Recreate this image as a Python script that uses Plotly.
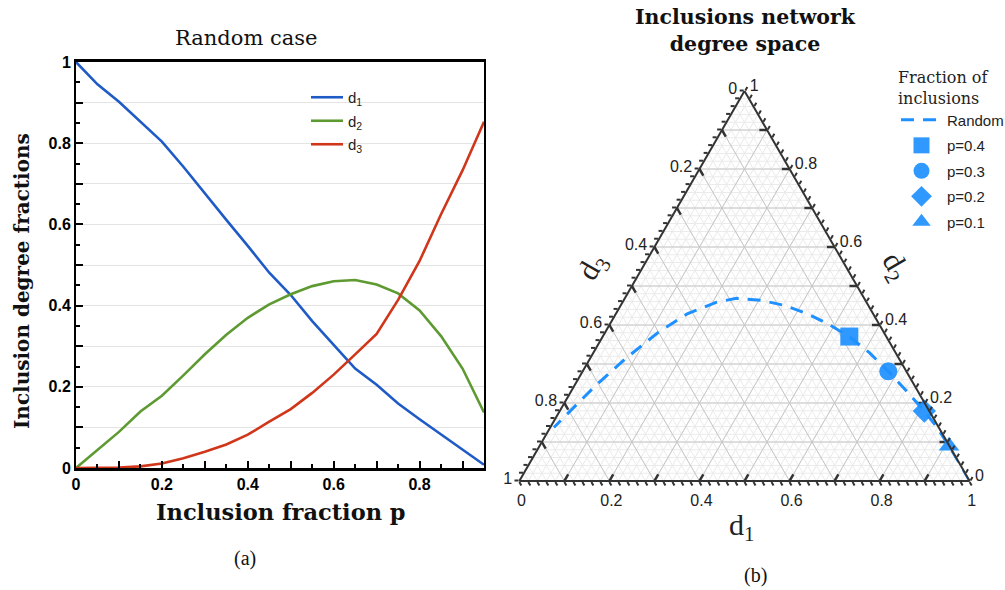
import plotly.graph_objects as go

# ---------------- data ----------------
p = [0.00, 0.05, 0.10, 0.15, 0.20, 0.25, 0.30, 0.35, 0.40, 0.45,
     0.50, 0.55, 0.60, 0.65, 0.70, 0.75, 0.80, 0.85, 0.90, 0.95]
d1 = [1.000, 0.945, 0.902, 0.853, 0.804, 0.742, 0.676, 0.611, 0.547, 0.481,
      0.426, 0.362, 0.303, 0.245, 0.205, 0.159, 0.120, 0.082, 0.046, 0.008]
d2 = [0.000, 0.044, 0.089, 0.139, 0.178, 0.228, 0.280, 0.328, 0.370, 0.403,
      0.428, 0.448, 0.460, 0.463, 0.452, 0.430, 0.388, 0.325, 0.245, 0.137]
d3 = [0.000, 0.000, 0.001, 0.004, 0.011, 0.024, 0.040, 0.058, 0.082, 0.114,
      0.145, 0.185, 0.230, 0.280, 0.330, 0.414, 0.510, 0.625, 0.733, 0.853]

series_names = ["d<sub>1</sub>", "d<sub>2</sub>", "d<sub>3</sub>"]
series_colors = ["#1f5bc6", "#5e9a32", "#d0361a"]

x_tickvals = [0.0, 0.1, 0.2, 0.3, 0.4, 0.5, 0.6, 0.7, 0.8, 0.9]
x_ticktext = ["0", "", "0.2", "", "0.4", "", "0.6", "", "0.8", ""]
y_tickvals = [0.0, 0.1, 0.2, 0.3, 0.4, 0.5, 0.6, 0.7, 0.8, 0.9, 1.0]
y_ticktext = ["0", "", "0.2", "", "0.4", "", "0.6", "", "0.8", "", "1"]

marker_p = [0.4, 0.3, 0.2, 0.1]
marker_symbols = ["square", "circle", "diamond", "triangle-up"]

# ternary: major grid every 0.1, minor grid/ticks every 0.02, labels every 0.2
tern_major = [0.1, 0.2, 0.3, 0.4, 0.5, 0.6, 0.7, 0.8, 0.9]
tern_minor_step = 0.02
tern_label_vals = [0.0, 0.2, 0.4, 0.6, 0.8, 1.0]

BLUE = "rgb(30,144,255)"
DARK = "#333333"

fig = go.Figure()

# ---------------- left panel ----------------
for name, col, ys in zip(series_names, series_colors, [d1, d2, d3]):
    fig.add_trace(go.Scatter(x=p, y=ys, mode="lines", name=name, legendgroup=name,
                             line=dict(color=col, width=2.6),
                             xaxis="x", yaxis="y", legend="legend"))

# ---------------- ternary panel (a=d2 top, b=d3 bottom-left, c=d1 bottom-right) ----------------
def tline(a, b, c, color, width):
    return go.Scatterternary(a=a, b=b, c=c, mode="lines",
                             line=dict(color=color, width=width),
                             showlegend=False, hoverinfo="skip", cliponaxis=False)

# major grid lines
for v in tern_major:
    fig.add_trace(tline([v, v], [1 - v, 0], [0, 1 - v], "#c6c6c6", 1))
    fig.add_trace(tline([1 - v, 0], [v, v], [0, 1 - v], "#c6c6c6", 1))
    fig.add_trace(tline([1 - v, 0], [0, 1 - v], [v, v], "#c6c6c6", 1))

# major ticks pointing inward from the labelled edge
tl = 0.017
for v in tern_major:
    fig.add_trace(tline([0, tl], [1 - v, 1 - v - tl], [v, v], DARK, 2.5))      # d1, bottom edge
    fig.add_trace(tline([v, v], [0, tl], [1 - v, 1 - v - tl], DARK, 2.5))      # d2, right edge
    fig.add_trace(tline([1 - v, 1 - v - tl], [v, v], [0, tl], DARK, 2.5))      # d3, left edge

# random trajectory + markers
fig.add_trace(go.Scatterternary(a=d2, b=d3, c=d1, mode="lines", name="Random",
                                line=dict(color=BLUE, width=3, dash="13px,9px"),
                                legend="legend2", legendgroup="r", hoverinfo="skip"))
for mp, sym in zip(marker_p, marker_symbols):
    i = p.index(mp)
    fig.add_trace(go.Scatterternary(a=[d2[i]], b=[d3[i]], c=[d1[i]], mode="markers",
                                    name=f"p={mp}", legendgroup=f"g{mp}",
                                    marker=dict(symbol=sym, size=18, color=BLUE, opacity=0.92),
                                    legend="legend2", cliponaxis=False))

# native ternary ticks: every 0.02, labelled every 0.2 with the value of the
# component that the reference labels on that edge (1 - axis value)
n_minor = int(round(1 / tern_minor_step))
tern_tickvals = [round(k * tern_minor_step, 4) for k in range(n_minor + 1)]
tern_ticktext = [("%g" % round(1 - v, 4)) if any(abs(v - L) < 1e-9 for L in tern_label_vals) else ""
                 for v in tern_tickvals]

tern_axis = dict(showgrid=True, gridcolor="#ebebeb", gridwidth=1,
                 tickmode="array", tickvals=tern_tickvals, ticktext=tern_ticktext,
                 showline=True, linecolor=DARK, linewidth=2,
                 ticks="outside", ticklen=4, tickwidth=1.5, tickcolor=DARK,
                 showticklabels=True,
                 tickfont=dict(family="Liberation Sans", size=16, color="#222222"),
                 title=dict(text=""), min=0)

W, H = 1005, 590
def px(x):
    return x / W
def py(y):
    return 1 - y / H

tick_font = dict(family="Liberation Sans", size=16, color="black", weight="bold")

fig.update_layout(
    width=W, height=H, margin=dict(l=0, r=0, t=0, b=0, autoexpand=False),
    paper_bgcolor="white", plot_bgcolor="white",
    showlegend=True,
    xaxis=dict(domain=[px(76), px(484)], range=[0, 0.95], tickvals=x_tickvals, ticktext=x_ticktext,
               ticks="inside", ticklen=7, tickwidth=2, tickcolor="black",
               minor=dict(dtick=0.05, ticks="inside", ticklen=4, tickwidth=1.5, tickcolor="black"),
               showline=True, mirror=True, linecolor="black", linewidth=2.5,
               showgrid=False, zeroline=False, tickfont=tick_font, anchor="y", automargin=False),
    yaxis=dict(domain=[py(468), py(62)], range=[0, 1], tickvals=y_tickvals, ticktext=y_ticktext,
               ticks="inside", ticklen=7, tickwidth=2, tickcolor="black",
               minor=dict(dtick=0.05, ticks="inside", ticklen=4, tickwidth=1.5, tickcolor="black"),
               showline=True, mirror=True, linecolor="black", linewidth=2,
               showgrid=True, gridcolor="#e4e4e4", gridwidth=1, zeroline=False,
               tickfont=tick_font, anchor="x", automargin=False),
    ternary=dict(sum=1, domain=dict(x=[px(519), px(970)], y=[py(481), py(91)]),
                 bgcolor="white", aaxis=tern_axis, baxis=tern_axis, caxis=tern_axis),
    legend=dict(x=px(306), y=py(81), xanchor="left", yanchor="top",
                font=dict(family="Liberation Sans", size=15, color="#222222"),
                bgcolor="rgba(0,0,0,0)", itemwidth=32, tracegroupgap=1),
    legend2=dict(x=px(896), y=py(62), xanchor="left", yanchor="top",
                 title=dict(text="Fraction of<br>inclusions",
                            font=dict(family="DejaVu Serif", size=16, color="#222222")),
                 font=dict(family="Liberation Sans", size=15, color="#222222"),
                 bgcolor="rgba(0,0,0,0)", itemwidth=41, tracegroupgap=3),
)

serif = "DejaVu Serif"
ann = [
    dict(text="Random case", x=px(246), y=py(38), font=dict(family=serif, size=21, color="#111")),
    dict(text="<b>Inclusion degree fractions</b>", x=px(22), y=py(281), textangle=-90,
         font=dict(family=serif, size=20, color="#111")),
    dict(text="<b>Inclusion fraction p</b>", x=px(281), y=py(512),
         font=dict(family=serif, size=22.5, color="#111")),
    dict(text="(a)", x=px(245), y=py(558), font=dict(family="Liberation Serif", size=20, color="#111")),
    dict(text="(b)", x=px(755), y=py(575), font=dict(family="Liberation Serif", size=20, color="#111")),
    dict(text="<b>Inclusions network<br>degree space</b>", x=px(745), y=py(31),
         font=dict(family=serif, size=20.5, color="#111")),
    dict(text="d<sub>1</sub>", x=px(742), y=py(527), font=dict(family="Liberation Serif", size=30, color="#222")),
    dict(text="d<sub>3</sub>", x=px(593), y=py(267), textangle=-60,
         font=dict(family="Liberation Serif", size=30, color="#222")),
    dict(text="d<sub>2</sub>", x=px(895), y=py(267), textangle=60,
         font=dict(family="Liberation Serif", size=30, color="#222")),
]
for a in ann:
    a.update(xref="paper", yref="paper", showarrow=False, xanchor="center", yanchor="middle")
fig.update_layout(annotations=ann)

fig.write_html("out.html")
